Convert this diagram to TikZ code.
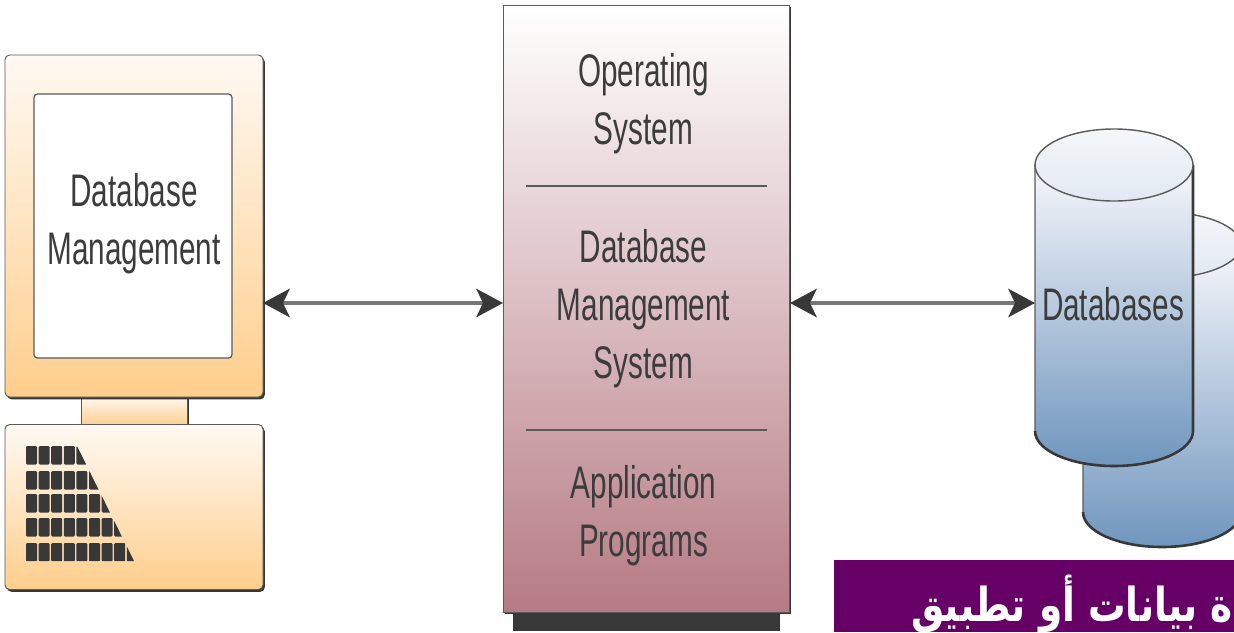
\documentclass[tikz,border=0pt]{standalone}
\usepackage{fontspec}
\setmainfont[FakeStretch=0.65]{Liberation Sans}
\newfontfamily\arabicfont[Script=Arabic]{DejaVu Sans}
\TeXXeTstate=1
\usetikzlibrary{arrows.meta,shadows}
\definecolor{edgegray}{HTML}{5A5A5A}
\definecolor{darkgray}{HTML}{383838}
\definecolor{textgray}{HTML}{3C3C3C}
\definecolor{linkgray}{HTML}{777777}
\definecolor{peachlight}{HTML}{FFF9F3}
\definecolor{peachdark}{HTML}{FFCE8C}
\definecolor{rosedark}{HTML}{B67B84}
\definecolor{bluelight}{HTML}{F6F7FB}
\definecolor{bluedark}{HTML}{7096BE}
\definecolor{bannerpurple}{HTML}{660066}
\tikzset{
  partbox/.style={rectangle,draw=edgegray,line width=.8pt,inner sep=0pt,outer sep=0pt,rounded corners=4pt,
    general shadow={fill=darkgray,shadow xshift=1.6pt,shadow yshift=-2pt}},
  peachbox/.style={partbox,top color=peachlight,bottom color=peachdark},
  label/.style={text=textgray,align=center,font=\fontsize{39}{49.5}\selectfont},
  divider/.style={draw=edgegray,line width=1.6pt},
  link/.style={draw=linkgray,line width=3.4pt,{Stealth[length=.8cm,width=.85cm,inset=.2cm,color=darkgray]}-{Stealth[length=.8cm,width=.85cm,inset=.2cm,color=darkgray]}},
  key/.style={fill=darkgray,rounded corners=1pt},
  drum/.style={draw=edgegray,line width=1pt,top color=bluelight,bottom color=bluedark},
  drumtop/.style={draw=edgegray,line width=1.2pt,top color=white!92!bluedark,bottom color=bluelight!85!bluedark},
  drumedge/.style={draw=darkgray,line width=2.2pt},
}
\begin{document}
\begin{tikzpicture}[x=.03cm,y=-.03cm]
  \useasboundingbox (0,0) rectangle (1234,632);
  \clip (0,0) rectangle (1234,632);
  % computer
  \node (neck) at (134,411) [partbox,rounded corners=0pt,top color=peachlight,bottom color=peachdark,minimum width=3.18cm,minimum height=.9cm] {};
  \node (monitor) at (134,226) [peachbox,minimum width=7.74cm,minimum height=10.26cm] {};
  \node (screen) at (133,226) [rectangle,draw=edgegray,line width=1.1pt,fill=white,rounded corners=3pt,minimum width=5.94cm,minimum height=7.92cm] {};
  \node (screentext) at (134,223.5) [label] {Database\\Management};
  \node (keyboard) at (134,507) [peachbox,minimum width=7.74cm,minimum height=4.95cm] {};
  \begin{scope}
    \clip (26,446) -- (77,446) -- (134,561) -- (26,561) -- cycle;
    \foreach \row/\ytop in {0/446,1/471,2/494,3/518,4/543} {
      \foreach \col in {0,...,8} {
        \fill[key] (26+12.6*\col,\ytop) rectangle (37+12.6*\col,\ytop+18.5);
      }
    }
  \end{scope}
  % middle column
  \fill[darkgray] (513,600) rectangle (780,631);
  \node (server) at (646,308.5) [partbox,rounded corners=0pt,top color=white,bottom color=rosedark,minimum width=8.58cm,minimum height=18.21cm] {};
  \node (osbox) at (643.5,104) [label] {Operating\\System};
  \node (dbmsbox) at (643.5,309) [label] {Database\\Management\\System};
  \node (appbox) at (643.5,516) [label] {Application\\Programs};
  \coordinate (rule1a) at (526,186);
  \coordinate (rule1b) at (767,186);
  \coordinate (rule2a) at (526,430);
  \coordinate (rule2b) at (767,430);
  \draw[divider] (rule1a) -- (rule1b);
  \draw[divider] (rule2a) -- (rule2b);
  % databases
  \path[drum] (1083,245) -- (1083,512) arc[start angle=180,end angle=0,x radius=79,y radius=35] -- (1241,245) -- cycle;
  \draw[drumedge] (1083,512) arc[start angle=180,end angle=0,x radius=79,y radius=35];
  \draw[drumtop] (1162,245) ellipse[x radius=79,y radius=33];
  \path[drum] (1035,165) -- (1035,431) arc[start angle=180,end angle=0,x radius=79,y radius=35] -- (1193,165) -- cycle;
  \draw[drumedge] (1193,165) -- (1193,431) arc[start angle=0,end angle=180,x radius=79,y radius=35];
  \draw[drumtop] (1114,165) ellipse[x radius=79,y radius=36];
  \node (dblabel) at (1113,304) [label] {Databases};
  % arrows
  \coordinate (monitorport) at (263,303);
  \coordinate (serverleft) at (503,303);
  \coordinate (serverright) at (790,303);
  \coordinate (dbport) at (1035,303);
  \draw[link] (monitorport) -- (serverleft);
  \draw[link] (serverright) -- (dbport);
  % caption
  \node (banner) at (1034,596) [rectangle,fill=bannerpurple,inner sep=0pt,minimum width=12cm,minimum height=2.16cm] {};
  \node (caption) at (1233,604) [anchor=east,text=white,inner sep=0pt,font=\arabicfont\bfseries\fontsize{32}{36}\selectfont] {\scalebox{1}[1.25]{\beginR ة بيانات أو تطبيق\endR}};
\end{tikzpicture}
\end{document}
